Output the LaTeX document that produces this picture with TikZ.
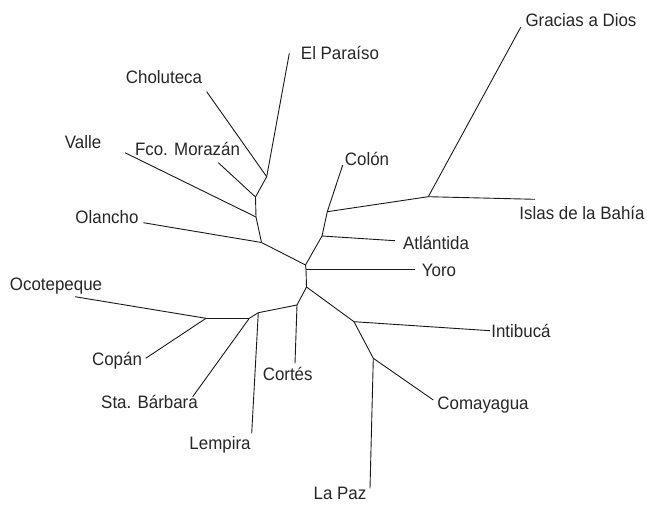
\documentclass[tikz,border=0pt]{standalone}
\usepackage{fontspec}
\setmainfont{Liberation Sans}[FakeStretch=0.94]
\begin{document}
\begin{tikzpicture}[x=1pt,y=-1pt,
  edge/.style={draw=black!90,line width=0.9pt},
  lbl/.style={inner sep=0pt,font=\fontsize{18}{20}\selectfont,text=black!85}]
\useasboundingbox (0,0) rectangle (647,506);
% internal nodes
\coordinate (A) at (266.7,176.7);
\coordinate (B) at (255.5,197);
\coordinate (C) at (256,217);
\coordinate (D) at (261.5,242.5);
\coordinate (E) at (305.5,265);
\coordinate (Ey) at (306,269.3);
\coordinate (I) at (306.5,287);
\coordinate (J) at (297,305);
\coordinate (N) at (258.3,312.7);
\coordinate (M) at (249.3,318.3);
\coordinate (L) at (206,318.3);
\coordinate (K) at (354,321.7);
\coordinate (P) at (373.3,358.3);
\coordinate (F) at (322,236);
\coordinate (G) at (327.3,211.7);
\coordinate (H) at (428.3,196.7);
% leaf ends
\coordinate (eParaiso) at (289.3,53.3);
\coordinate (eChol) at (206.7,91.7);
\coordinate (eFco) at (218.3,162.7);
\coordinate (eValle) at (125,152.7);
\coordinate (eOlancho) at (143.3,222.7);
\coordinate (eAtl) at (395,240.7);
\coordinate (eColon) at (342.7,165);
\coordinate (eGracias) at (520.7,27.3);
\coordinate (eIslas) at (535,199.3);
\coordinate (eYoro) at (415,269.3);
\coordinate (eCortes) at (295,363.3);
\coordinate (eLempira) at (251.7,433.3);
\coordinate (eSta) at (192.7,396.7);
\coordinate (eOco) at (75,296.7);
\coordinate (eCopan) at (145.7,358.3);
\coordinate (eInti) at (490,330.7);
\coordinate (eComa) at (433.3,400);
\coordinate (eLaPaz) at (370,488.3);
% labels
\node[lbl] (lGracias) at (581,20) {Gracias a Dios};
\node[lbl] (lParaiso) at (340,52.5) {El Paraíso};
\node[lbl] (lChol) at (164,77.5) {Choluteca};
\node[lbl] (lValle) at (83,142) {Valle};
\node[lbl] (lFco) at (187.5,149) {Fco. Morazán};
\node[lbl] (lColon) at (367,158.5) {Colón};
\node[lbl] (lIslas) at (582,213) {Islas de la Bahía};
\node[lbl] (lOlancho) at (107,217.5) {Olancho};
\node[lbl] (lAtl) at (436,243) {Atlántida};
\node[lbl] (lYoro) at (439,270) {Yoro};
\node[lbl] (lOco) at (56,286) {Ocotepeque};
\node[lbl] (lInti) at (521,331) {Intibucá};
\node[lbl] (lCopan) at (117,361) {Copán};
\node[lbl] (lSta) at (149.5,402) {Sta. Bárbara};
\node[lbl] (lLempira) at (220,444.5) {Lempira};
\node[lbl] (lCortes) at (287.7,374) {Cortés};
\node[lbl] (lComa) at (483,405.5) {Comayagua};
\node[lbl] (lLaPaz) at (340,493) {La Paz};
% edges
\draw[edge] (eParaiso) -- (A);
\draw[edge] (eChol) -- (A);
\draw[edge] (A) -- (B);
\draw[edge] (eFco) -- (B);
\draw[edge] (B) -- (C);
\draw[edge] (eValle) -- (C);
\draw[edge] (C) -- (D);
\draw[edge] (eOlancho) -- (D);
\draw[edge] (D) -- (E);
\draw[edge] (E) -- (F);
\draw[edge] (F) -- (eAtl);
\draw[edge] (F) -- (G);
\draw[edge] (G) -- (eColon);
\draw[edge] (G) -- (H);
\draw[edge] (H) -- (eGracias);
\draw[edge] (H) -- (eIslas);
\draw[edge] (E) -- (Ey) -- (I);
\draw[edge] (Ey) -- (eYoro);
\draw[edge] (I) -- (J);
\draw[edge] (J) -- (eCortes);
\draw[edge] (J) -- (N);
\draw[edge] (N) -- (eLempira);
\draw[edge] (N) -- (M);
\draw[edge] (M) -- (eSta);
\draw[edge] (M) -- (L);
\draw[edge] (L) -- (eOco);
\draw[edge] (L) -- (eCopan);
\draw[edge] (I) -- (K);
\draw[edge] (K) -- (eInti);
\draw[edge] (K) -- (P);
\draw[edge] (P) -- (eComa);
\draw[edge] (P) -- (eLaPaz);
\end{tikzpicture}
\end{document}
